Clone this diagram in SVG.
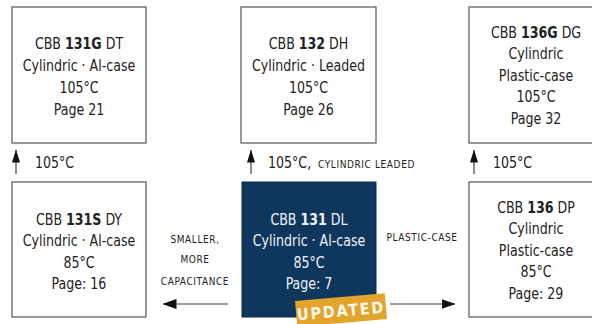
<svg xmlns="http://www.w3.org/2000/svg" width="592" height="324" viewBox="0 0 592 324">
<defs>
<style>
.box{fill:#fff;stroke:#555;stroke-width:1.2}
.dark{fill:#0f375d;stroke:#0c2c4a;stroke-width:1}
.t{font-family:"DejaVu Sans Condensed","Liberation Sans",sans-serif;font-size:16.5px;fill:#222;text-anchor:middle}
.tw{fill:#eef3f8}
.b{font-weight:bold}
.lab{font-family:"DejaVu Sans Condensed","Liberation Sans",sans-serif;font-size:16.5px;fill:#222}
.sc{font-family:"DejaVu Sans Condensed","Liberation Sans",sans-serif;font-size:10px;fill:#222;letter-spacing:0.6px}
.line{stroke:#444;stroke-width:1.2;fill:none}
</style>
<marker id="ah" viewBox="0 0 13 8" refX="12.5" refY="4" markerWidth="13" markerHeight="8" markerUnits="userSpaceOnUse" orient="auto">
<path d="M0,0 L13,4 L0,8 Z" fill="#111"/>
</marker>
<marker id="ahh" viewBox="0 0 14 10" refX="13.5" refY="5" markerWidth="14" markerHeight="10" markerUnits="userSpaceOnUse" orient="auto">
<path d="M0,0 L14,5 L0,10 Z" fill="#111"/>
</marker>
</defs>

<g id="connectors">
<line class="line" x1="16" y1="174" x2="16" y2="150" marker-end="url(#ah)"/>
<line class="line" x1="251" y1="174" x2="251" y2="150" marker-end="url(#ah)"/>
<line class="line" x1="474" y1="174" x2="474" y2="150" marker-end="url(#ah)"/>
<line class="line" x1="228" y1="304" x2="163" y2="304" marker-end="url(#ahh)"/>
<line class="line" x1="390" y1="304" x2="455" y2="304" marker-end="url(#ahh)"/>
<text class="lab" transform="translate(35 168) scale(0.85 1)">105°C</text>
<text class="lab" transform="translate(268 168) scale(0.85 1)">105°C,</text>
<text class="sc" x="318" y="168">CYLINDRIC LEADED</text>
<text class="lab" transform="translate(493 168) scale(0.85 1)">105°C</text>
<text class="sc" x="195" y="243" text-anchor="middle">SMALLER,</text>
<text class="sc" x="195" y="263" text-anchor="middle">MORE</text>
<text class="sc" x="195" y="285" text-anchor="middle">CAPACITANCE</text>
<text class="sc" x="422" y="241" text-anchor="middle">PLASTIC-CASE</text>
</g>

<g id="n131G">
<rect class="box" x="12" y="7" width="134" height="136"/>
<g transform="translate(79 0) scale(0.85 1)">
<text class="t" x="0" y="49">CBB <tspan class="b">131G</tspan> DT</text>
<text class="t" x="0" y="71">Cylindric · Al-case</text>
<text class="t" x="0" y="93">105°C</text>
<text class="t" x="0" y="115">Page 21</text>
</g>
</g>

<g id="n132">
<rect class="box" x="241" y="7" width="135" height="136"/>
<g transform="translate(308.5 0) scale(0.85 1)">
<text class="t" x="0" y="49">CBB <tspan class="b">132</tspan> DH</text>
<text class="t" x="0" y="71">Cylindric · Leaded</text>
<text class="t" x="0" y="93">105°C</text>
<text class="t" x="0" y="115">Page 26</text>
</g>
</g>

<g id="n136G">
<rect class="box" x="469" y="7" width="134" height="136"/>
<g transform="translate(536 0) scale(0.85 1)">
<text class="t" x="0" y="38">CBB <tspan class="b">136G</tspan> DG</text>
<text class="t" x="0" y="59.5">Cylindric</text>
<text class="t" x="0" y="81">Plastic-case</text>
<text class="t" x="0" y="102.5">105°C</text>
<text class="t" x="0" y="124">Page 32</text>
</g>
</g>

<g id="n131S">
<rect class="box" x="12" y="182" width="134" height="135"/>
<g transform="translate(79 0) scale(0.85 1)">
<text class="t" x="0" y="225">CBB <tspan class="b">131S</tspan> DY</text>
<text class="t" x="0" y="246.5">Cylindric · Al-case</text>
<text class="t" x="0" y="268">85°C</text>
<text class="t" x="0" y="289.5">Page: 16</text>
</g>
</g>

<g id="n131">
<rect class="dark" x="242" y="182" width="134" height="135"/>
<g transform="translate(309 0) scale(0.85 1)">
<text class="t tw" x="0" y="225">CBB <tspan class="b">131</tspan> DL</text>
<text class="t tw" x="0" y="246.5">Cylindric · Al-case</text>
<text class="t tw" x="0" y="268">85°C</text>
<text class="t tw" x="0" y="289.5">Page: 7</text>
</g>
<g transform="rotate(-5 341 310)">
<rect x="296" y="297" width="90" height="26" fill="#e2a42c"/>
<text x="341" y="316.5" text-anchor="middle" font-family="'DejaVu Sans Condensed','Liberation Sans',sans-serif" font-weight="bold" font-size="16" letter-spacing="1.8" fill="#fff8ea">UPDATED</text>
</g>
</g>

<g id="n136">
<rect class="box" x="469" y="182" width="134" height="135"/>
<g transform="translate(536 0) scale(0.85 1)">
<text class="t" x="0" y="213">CBB <tspan class="b">136</tspan> DP</text>
<text class="t" x="0" y="234.5">Cylindric</text>
<text class="t" x="0" y="256">Plastic-case</text>
<text class="t" x="0" y="277.5">85°C</text>
<text class="t" x="0" y="299">Page: 29</text>
</g>
</g>
</svg>
